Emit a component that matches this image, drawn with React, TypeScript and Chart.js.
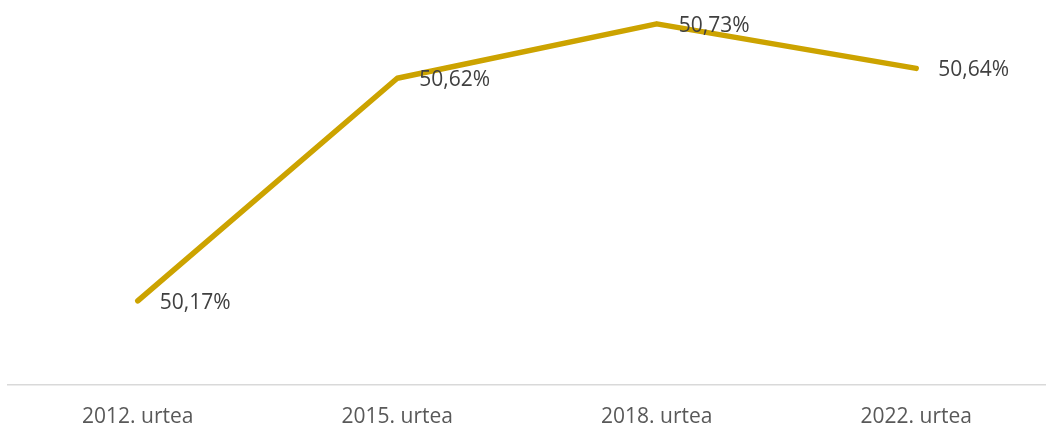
import React, { useEffect, useRef } from "react";
import { Chart, registerables } from "chart.js";

Chart.register(...registerables);

const categories = ["2012. urtea", "2015. urtea", "2018. urtea", "2022. urtea"];
const values = [50.17, 50.62, 50.73, 50.64];
const valueLabels = ["50,17%", "50,62%", "50,73%", "50,64%"];

const FONT = "'Open Sans', sans-serif";

const labelPlugin = {
  id: "valueLabels",
  afterDatasetsDraw(chart: any) {
    const ctx = chart.ctx;
    const meta = chart.getDatasetMeta(0);
    ctx.save();
    ctx.font = `21px ${FONT}`;
    ctx.fillStyle = "#404040";
    ctx.textAlign = "left";
    ctx.textBaseline = "middle";
    meta.data.forEach((pt: any, i: number) => {
      ctx.fillText(valueLabels[i], pt.x + 22, pt.y + 2);
    });
    ctx.restore();
  },
};

export default function App() {
  const ref = useRef<HTMLCanvasElement | null>(null);
  useEffect(() => {
    document.body.style.margin = "0";
    const chart = new Chart(ref.current as HTMLCanvasElement, {
      type: "line",
      data: {
        labels: categories,
        datasets: [
          {
            data: values,
            borderColor: "#CCA300",
            borderWidth: 5.5,
            borderCapStyle: "round",
            borderJoinStyle: "round",
            pointRadius: 0,
            tension: 0,
            fill: false,
          },
        ],
      },
      options: {
        responsive: false,
        animation: false,
        maintainAspectRatio: false,
        layout: { padding: { left: 8, right: 0, top: 9, bottom: 0 } },
        plugins: { legend: { display: false }, tooltip: { enabled: false } },
        scales: {
          x: {
            offset: true,
            grid: { display: false, drawTicks: false },
            border: { display: true, color: "#D9D9D9", width: 1.5 },
            ticks: { color: "#595959", font: { family: FONT, size: 21 }, padding: 19 },
            afterFit(scale: any) {
              scale.height = 42;
            },
          },
          y: { display: false, min: 50, max: 50.76 },
        },
      },
      plugins: [labelPlugin],
    });
    return () => chart.destroy();
  }, []);
  return (
    <div style={{ width: 1046, height: 427 }}>
      <canvas ref={ref} width={1046} height={427} style={{ display: "block" }} />
    </div>
  );
}
